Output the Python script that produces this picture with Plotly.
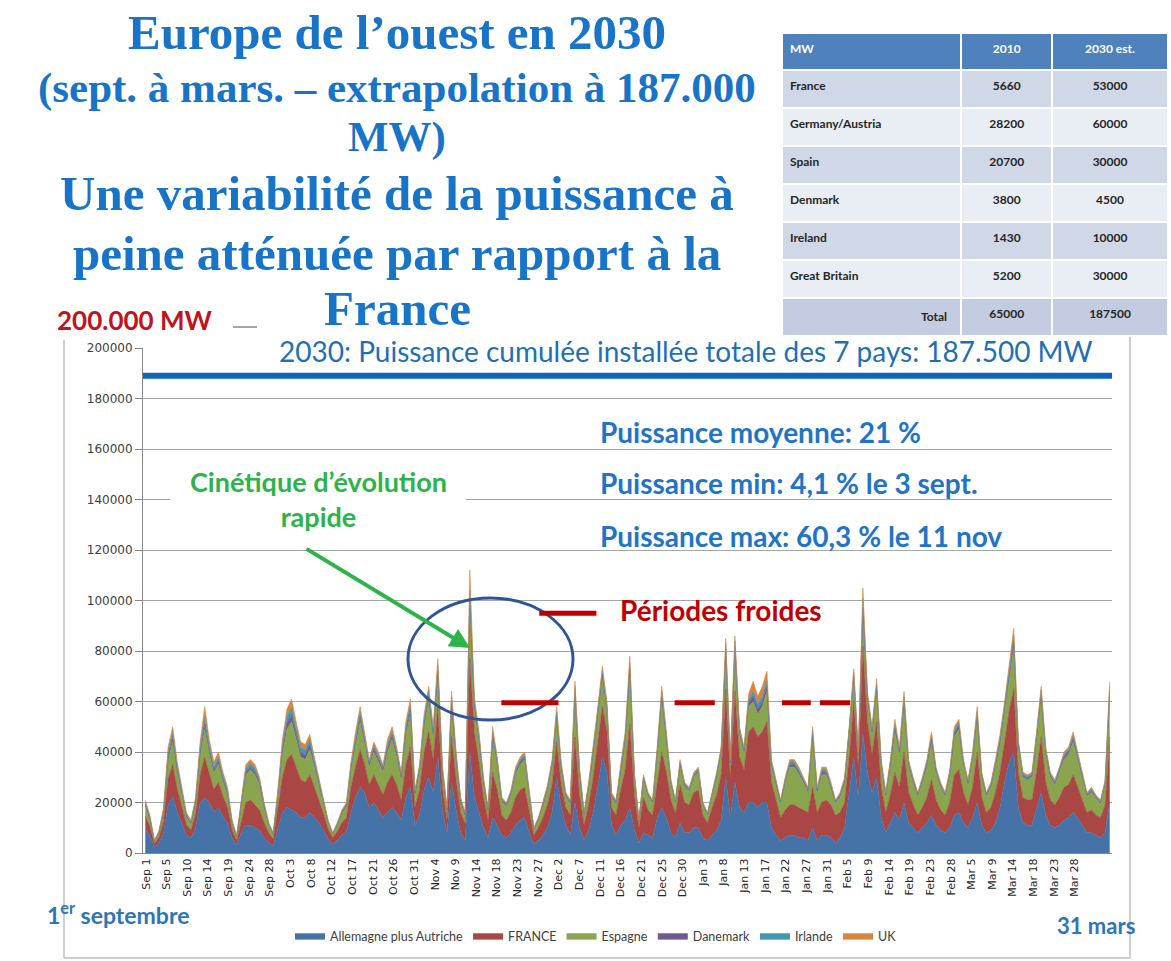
import plotly.graph_objects as go

W, H = 1171, 961

def px(x):
    return x / W

def py(y):
    return 1 - y / H

# ---------------- data (MW, one value per day, 1 Sep -> 31 Mar) ----------------
allemagne = [
    9500, 6800, 2300, 4000, 8100, 19000, 22500, 16200, 11700, 7200,
    5800, 9900, 19800, 22000, 20000, 16200, 18000, 14400, 11700, 5800,
    3200, 8000, 11000, 11000, 10000, 9000, 6000, 4000, 3000, 10000,
    16000, 18000, 17000, 16000, 14000, 14000, 16000, 14000, 12000, 9000,
    5500, 3500, 5000, 7000, 8000, 16000, 22000, 26000, 24000, 18000,
    20000, 17000, 14000, 16000, 18000, 16000, 13000, 22000, 26000, 11000,
    15000, 25000, 30000, 24000, 38000, 17000, 8000, 28000, 17000, 8000,
    5000, 40000, 22000, 16000, 10000, 6000, 14000, 11000, 7000, 6000,
    8000, 11000, 13000, 14000, 8000, 3500, 5000, 7000, 10000, 16000,
    30000, 18000, 11000, 7000, 20000, 10000, 5000, 9000, 16000, 26000,
    38000, 32000, 11000, 7000, 11000, 13000, 18000, 9000, 4000, 8000,
    7000, 6000, 14000, 18000, 14000, 8000, 6000, 12000, 8000, 8000,
    10000, 10000, 6000, 5000, 7000, 9000, 13000, 30000, 14000, 28000,
    18000, 16000, 20000, 20000, 18000, 20000, 20000, 10000, 7000, 5000,
    6000, 7000, 7000, 6000, 6000, 5000, 10000, 5000, 7000, 7000,
    6000, 4000, 6000, 10000, 24000, 38000, 22000, 47000, 32000, 24000,
    30000, 14000, 8000, 12000, 16000, 13000, 20000, 12000, 10000, 8000,
    10000, 12000, 15000, 11000, 9000, 8000, 10000, 15000, 16000, 12000,
    10000, 14000, 20000, 11000, 8000, 9000, 12000, 18000, 28000, 36000,
    40000, 18000, 12000, 11000, 11000, 17000, 24000, 15000, 11000, 10000,
    11000, 13000, 14000, 16000, 14000, 11000, 8000, 8000, 7000, 6000,
    8000, 20000,
]
france = [
    5200, 3800, 1200, 2300, 4500, 10500, 12500, 9000, 6500, 4000,
    3300, 5500, 11000, 16000, 11500, 9000, 10000, 8000, 6500, 3300,
    1700, 5000, 9000, 10000, 9000, 8000, 6000, 4000, 2500, 7000,
    14000, 19000, 22000, 18000, 15000, 14000, 15000, 12000, 9000, 6500,
    4000, 2500, 3500, 5000, 6000, 10000, 12000, 15000, 11000, 9000,
    11000, 10000, 9000, 12000, 13000, 11000, 8000, 13000, 16000, 7000,
    10000, 15000, 18000, 13000, 20000, 9000, 5000, 18000, 12000, 8000,
    6500, 37000, 26000, 20000, 12000, 7000, 18000, 14000, 8000, 7000,
    8000, 11000, 12000, 12000, 8000, 3500, 5000, 7000, 9000, 11000,
    14000, 9000, 7000, 8000, 26000, 13000, 6000, 10000, 14000, 17000,
    20000, 16000, 7000, 8000, 14000, 20000, 33000, 14000, 6000, 14000,
    10000, 9000, 14000, 22000, 18000, 13000, 9500, 15000, 12000, 11000,
    14000, 15000, 9000, 7000, 11000, 14000, 18000, 35000, 15000, 36000,
    20000, 17000, 28000, 30000, 28000, 28000, 32000, 18000, 14000, 9000,
    11000, 12000, 12000, 12000, 11000, 11000, 16000, 11000, 13000, 14000,
    13000, 11000, 10000, 10000, 14000, 22000, 12000, 35000, 20000, 15000,
    22000, 12000, 8000, 11000, 16000, 13000, 20000, 12000, 9000, 7000,
    8000, 10000, 14000, 10000, 8000, 7000, 10000, 16000, 17000, 12000,
    9000, 12000, 20000, 11000, 8000, 9000, 12000, 14000, 16000, 20000,
    25000, 14000, 10000, 10000, 10000, 15000, 22000, 13000, 10000, 9000,
    11000, 13000, 13000, 15000, 12000, 10000, 8000, 9000, 8000, 8000,
    11000, 26000,
]
espagne = [
    3800, 2700, 900, 1600, 3200, 7500, 9000, 6500, 4700, 2900,
    2300, 4000, 7900, 11000, 8000, 6500, 7200, 5800, 4700, 2300,
    1300, 5000, 11000, 12000, 12000, 10000, 6000, 3000, 2000, 5000,
    9000, 12000, 13000, 11000, 9000, 9000, 10000, 8000, 6000, 4500,
    2500, 1500, 2500, 3500, 4000, 7000, 9000, 11000, 8000, 7000,
    9000, 9000, 9000, 12000, 14000, 11000, 8000, 12000, 13000, 5000,
    7000, 10000, 12000, 9000, 12000, 6000, 3500, 12000, 7500, 4000,
    3000, 20000, 9000, 8000, 5500, 3500, 13000, 10000, 5500, 5500,
    7000, 9000, 10000, 11000, 6000, 2300, 3200, 4600, 6000, 7000,
    9000, 6000, 4000, 4500, 16000, 8000, 3800, 7000, 9000, 11000,
    11000, 8000, 4000, 4500, 7500, 11000, 20000, 7000, 2400, 7000,
    5500, 4800, 11000, 20000, 12000, 6000, 4300, 7500, 6000, 5500,
    6000, 7000, 4000, 3200, 5000, 7000, 9000, 14000, 6000, 16000,
    9000, 6500, 10000, 10000, 9000, 10000, 12000, 6000, 6000, 6000,
    11000, 15000, 15000, 13000, 11000, 8000, 20000, 8000, 11000, 10000,
    7000, 5000, 6000, 8000, 9000, 9000, 4000, 12000, 8000, 8000,
    12000, 9000, 6500, 11000, 16000, 13000, 18000, 10000, 9000, 7500,
    10000, 12000, 15000, 11000, 9000, 7500, 10000, 15000, 16000, 11000,
    8000, 11000, 13000, 8000, 6500, 8000, 10000, 11000, 12000, 13000,
    16000, 10000, 8000, 8000, 9000, 13000, 16000, 11000, 9000, 8000,
    10000, 11000, 12000, 13000, 11000, 9000, 6500, 7000, 6500, 5500,
    8000, 16000,
]
danemark = [
    600, 500, 200, 300, 500, 1300, 1500, 1100, 800, 500,
    400, 700, 1300, 2000, 1400, 1100, 1200, 1000, 800, 400,
    200, 600, 1000, 1000, 1000, 800, 600, 300, 200, 1000,
    2000, 2500, 2500, 2000, 1800, 1800, 2000, 1200, 900, 600,
    300, 200, 300, 500, 600, 1000, 1500, 2000, 1300, 1000,
    1300, 1300, 1000, 1500, 1500, 1200, 1000, 1500, 2000, 600,
    1000, 1500, 2000, 1300, 2000, 1000, 500, 2000, 1100, 600,
    500, 3000, 1500, 1200, 800, 500, 1500, 1000, 500, 500,
    600, 1000, 1000, 1000, 600, 200, 200, 400, 600, 1000,
    1500, 1000, 600, 500, 2000, 1000, 400, 600, 1000, 1300,
    1500, 1200, 600, 500, 800, 1200, 2000, 600, 200, 600,
    500, 400, 1000, 2000, 1300, 600, 400, 800, 600, 500,
    600, 600, 300, 200, 300, 600, 600, 2000, 600, 2000,
    1000, 800, 1500, 2000, 2000, 2000, 2000, 1000, 600, 300,
    600, 1000, 1000, 1000, 600, 600, 1000, 600, 1000, 1000,
    600, 300, 600, 600, 1000, 1300, 600, 3000, 1300, 1000,
    1500, 600, 500, 1000, 1500, 1000, 2000, 1000, 600, 500,
    600, 1000, 1200, 600, 600, 500, 1000, 1200, 1200, 600,
    600, 1000, 1500, 600, 500, 600, 1000, 1200, 1300, 1500,
    2500, 1000, 600, 600, 600, 1000, 1300, 1000, 600, 600,
    600, 1000, 1000, 1200, 1000, 600, 500, 600, 500, 500,
    600, 2000,
]
irlande = [
    800, 600, 200, 400, 700, 1700, 2000, 1400, 1000, 600,
    500, 900, 1800, 3000, 1800, 1400, 1600, 1300, 1000, 500,
    300, 600, 1500, 1500, 1500, 1100, 700, 300, 100, 1000,
    2000, 2500, 3000, 2500, 2000, 2000, 2000, 1400, 1000, 700,
    300, 100, 300, 500, 700, 1000, 1500, 2000, 1300, 1000,
    1300, 1300, 1000, 1500, 1500, 1300, 1000, 1500, 2000, 700,
    1000, 1500, 2000, 1300, 2500, 1000, 500, 2000, 1200, 700,
    500, 4000, 1500, 1300, 800, 500, 1500, 1000, 500, 500,
    700, 1000, 1000, 1000, 700, 200, 300, 500, 700, 1000,
    1500, 1000, 700, 500, 2000, 1000, 400, 700, 1000, 1300,
    1500, 1300, 700, 500, 800, 1300, 2500, 700, 200, 700,
    500, 400, 1000, 2000, 1300, 700, 400, 800, 700, 500,
    700, 700, 300, 300, 300, 700, 700, 2000, 700, 2000,
    1000, 800, 1500, 2000, 2000, 2000, 2000, 1000, 700, 300,
    700, 1000, 1000, 1000, 700, 700, 1500, 700, 1000, 1000,
    700, 300, 700, 700, 1000, 1300, 700, 4000, 1300, 1000,
    1500, 700, 500, 1000, 1500, 1000, 2000, 1000, 700, 500,
    700, 1000, 1300, 700, 700, 500, 1000, 1300, 1300, 700,
    700, 1000, 1500, 700, 500, 700, 1000, 1300, 1300, 1500,
    2500, 1000, 700, 700, 700, 1000, 1300, 1000, 700, 700,
    700, 1000, 1000, 1300, 1000, 700, 500, 700, 500, 500,
    700, 2000,
]
uk = [
    1100, 600, 200, 400, 1000, 2000, 2500, 1800, 1300, 800,
    700, 1000, 2200, 4000, 2300, 1800, 2000, 1500, 1300, 700,
    300, 800, 1500, 1500, 1500, 1100, 700, 400, 200, 1000,
    2000, 3000, 3500, 2500, 2200, 2200, 2000, 1400, 1100, 700,
    400, 200, 400, 500, 700, 1000, 2000, 2000, 1400, 1000,
    1400, 1400, 1000, 2000, 2000, 1500, 1000, 2000, 2000, 700,
    1000, 2000, 2000, 1400, 2500, 1000, 500, 2000, 1200, 700,
    500, 8000, 2000, 1500, 900, 500, 2000, 1000, 500, 500,
    700, 1000, 1000, 1000, 700, 300, 300, 500, 700, 1000,
    2000, 1000, 700, 500, 2000, 1000, 400, 700, 1000, 1400,
    2000, 1500, 700, 500, 900, 1500, 2500, 700, 200, 700,
    500, 400, 1000, 2000, 1400, 700, 400, 900, 700, 500,
    700, 700, 400, 300, 400, 700, 700, 2000, 700, 2000,
    1000, 900, 2000, 4000, 3000, 4000, 4000, 1000, 700, 400,
    700, 1000, 1000, 1000, 700, 700, 1500, 700, 1000, 1000,
    700, 400, 700, 700, 1000, 1400, 700, 4000, 1400, 1000,
    2000, 700, 500, 1000, 2000, 1000, 2000, 1000, 700, 500,
    700, 1000, 1500, 700, 700, 500, 1000, 1500, 1500, 700,
    700, 1000, 2000, 700, 500, 700, 1000, 1500, 1400, 2000,
    3000, 1000, 700, 700, 700, 1000, 1400, 1000, 700, 700,
    700, 1000, 1000, 1500, 1000, 700, 500, 700, 500, 500,
    700, 2000,
]

tick_labels = [
    "Sep 1", "Sep 5", "Sep 10", "Sep 14", "Sep 19", "Sep 24", "Sep 28",
    "Oct 3", "Oct 8", "Oct 12", "Oct 17", "Oct 21", "Oct 26", "Oct 31",
    "Nov 4", "Nov 9", "Nov 14", "Nov 18", "Nov 23", "Nov 27",
    "Dec 2", "Dec 7", "Dec 11", "Dec 16", "Dec 21", "Dec 25", "Dec 30",
    "Jan 3", "Jan 8", "Jan 13", "Jan 17", "Jan 22", "Jan 27", "Jan 31",
    "Feb 5", "Feb 9", "Feb 14", "Feb 19", "Feb 23", "Feb 28",
    "Mar 5", "Mar 9", "Mar 14", "Mar 18", "Mar 23", "Mar 28",
]

capacity_line = 189000  # MW, blue reference line (187.500 MW installed)

table_countries = ["France", "Germany/Austria", "Spain", "Denmark", "Ireland",
                   "Great Britain", ""]
table_2010 = [5660, 28200, 20700, 3800, 1430, 5200, 65000]
table_2030 = [53000, 60000, 30000, 4500, 10000, 30000, 187500]

series = [
    ("Allemagne plus Autriche", allemagne, "#4572A7"),
    ("FRANCE", france, "#AA4643"),
    ("Espagne", espagne, "#89A54E"),
    ("Danemark", danemark, "#71588F"),
    ("Irlande", irlande, "#4198AF"),
    ("UK", uk, "#DB843D"),
]

days = list(range(len(allemagne)))

fig = go.Figure()
for name, vals, col in series:
    fig.add_trace(go.Scatter(
        x=days, y=vals, name=name, mode="lines",
        stackgroup="one", line=dict(color=col, width=0.6),
        fillcolor=col,
    ))

# table (top right)
row_cols = ["#D0D8E8", "#E9EDF4", "#D0D8E8", "#E9EDF4", "#D0D8E8", "#E9EDF4", "#C3CCE0"]
fig.add_trace(go.Table(
    domain=dict(x=[px(782), px(1168)], y=[py(337), py(33)]),
    columnwidth=[178, 90, 115],
    header=dict(
        values=["<b>MW</b>", "<b>2010</b>", "<b>2030 est.</b>"],
        fill_color="#4F81BD", line_color="white", line_width=2,
        font=dict(family="Lato", size=12, color="white"),
        align=["left", "center", "center"], height=37,
    ),
    cells=dict(
        values=[[f"<b>{c}</b>" for c in table_countries],
                [f"<b>{v}</b>" for v in table_2010],
                [f"<b>{v}</b>" for v in table_2030]],
        fill_color=[row_cols, row_cols, row_cols],
        line_color="white", line_width=2,
        font=dict(family="Lato", size=12, color="#262626"),
        align=["left", "center", "center"], height=38,
    ),
))

tickvals = [0.15 + 4.516 * k for k in range(len(tick_labels))]

fig.update_layout(
    width=W, height=H,
    margin=dict(l=0, r=0, t=0, b=0),
    paper_bgcolor="white", plot_bgcolor="white",
    showlegend=True,
    legend=dict(orientation="h", x=px(290), y=py(936), xanchor="left", yanchor="middle",
                traceorder="normal",
                font=dict(family="Lato", size=12.5, color="#404040"),
                itemwidth=30, bgcolor="rgba(0,0,0,0)"),
    xaxis=dict(domain=[px(143), px(1112)], range=[-0.5, 211.5],
               tickvals=tickvals, ticktext=tick_labels, tickangle=-90,
               tickfont=dict(family="DejaVu Sans", size=11, color="#262626"),
               showgrid=False, zeroline=False, showline=True, linecolor="#878787",
               ticks="", automargin=False),
    yaxis=dict(domain=[py(853), py(348)], range=[0, 200000],
               tickvals=list(range(0, 200001, 20000)), tickformat="d",
               tickfont=dict(family="DejaVu Sans", size=12, color="#404040"),
               showgrid=True, gridcolor="#A6A6A6", gridwidth=1,
               zeroline=False, showline=True, linecolor="#878787",
               ticks="outside", ticklen=7, tickcolor="#878787", automargin=False),
)

shapes = [
    # chart frame
    dict(type="line", xref="paper", yref="paper", x0=px(64), x1=px(64), y0=py(340), y1=py(958),
         line=dict(color="#BFBFBF", width=1.5)),
    dict(type="line", xref="paper", yref="paper", x0=px(64), x1=px(1130), y0=py(958), y1=py(958),
         line=dict(color="#BFBFBF", width=1.5)),
    dict(type="line", xref="paper", yref="paper", x0=px(1130), x1=px(1130), y0=py(337), y1=py(958),
         line=dict(color="#BFBFBF", width=1.5)),
    # mask of the 200000 gridline behind the "2030:" caption
    dict(type="rect", xref="paper", yref="paper", x0=px(266), x1=px(1113), y0=py(352), y1=py(344),
         fillcolor="white", line=dict(width=0), layer="above"),
    # mask of the 140000 gridline behind the green caption
    dict(type="rect", xref="paper", yref="paper", x0=px(170), x1=px(466), y0=py(503), y1=py(495),
         fillcolor="white", line=dict(width=0), layer="above"),
    # capacity line
    dict(type="line", xref="x", yref="y", x0=-0.5, x1=211.5, y0=capacity_line, y1=capacity_line,
         line=dict(color="#0F65B8", width=6), layer="above"),
    # ellipse
    dict(type="circle", xref="paper", yref="paper", x0=px(408), x1=px(573), y0=py(720), y1=py(598),
         line=dict(color="#2F5597", width=3), layer="above"),
    # small grey dash after 200.000 MW
    dict(type="line", xref="paper", yref="paper", x0=px(233), x1=px(257), y0=py(327), y1=py(327),
         line=dict(color="#A6A6A6", width=2)),
]
# cold periods dashes (data coordinates)
cold = [(86.2, 98.7, 95000), (77.9, 90.4, 59500), (115.8, 124.6, 59500),
        (139.3, 145.6, 59500), (147.6, 154.2, 59500)]
for a, b, yv in cold:
    shapes.append(dict(type="line", xref="x", yref="y", x0=a, x1=b, y0=yv, y1=yv,
                       line=dict(color="#C00000", width=5), layer="above"))
fig.update_layout(shapes=shapes)

title_col = "#1874C6"
ann = []
title_lines = [
    ("Europe de l’ouest en 2030", 33, 49),
    ("(sept. à mars. – extrapolation à 187.000", 88, 43),
    ("MW)", 137, 43),
    ("Une variabilité de la puissance à", 193, 49),
    ("peine atténuée par rapport à la", 253, 49),
    ("France", 308, 49),
]
for txt, yy, sz in title_lines:
    ann.append(dict(text=f"<b>{txt}</b>", x=px(397), y=py(yy), xref="paper", yref="paper",
                    showarrow=False, xanchor="center", yanchor="middle",
                    font=dict(family="Liberation Serif", size=sz, color=title_col)))

def add_text(txt, x, y, size, color, anchor="left", fam="Lato"):
    ann.append(dict(text=txt, x=px(x), y=py(y), xref="paper", yref="paper", showarrow=False,
                    xanchor=anchor, yanchor="middle", font=dict(family=fam, size=size, color=color)))

add_text("<b>Total</b>", 949, 317, 12, "#262626", anchor="right")
add_text("<b>200.000 MW</b>", 55, 320, 26, "#C0141B")
add_text("2030: Puissance cumulée installée totale des 7 pays: 187.500 MW", 686, 351, 28,
         "#1F6FB4", anchor="center")
add_text("<b>Puissance moyenne: 21 %</b>", 598, 432, 28, "#1F75C4")
add_text("<b>Puissance min: 4,1 % le 3 sept.</b>", 598, 483, 28, "#1F75C4")
add_text("<b>Puissance max: 60,3 % le 11 nov</b>", 598, 536, 28, "#1F75C4")
add_text("<b>Cinétique d’évolution<br>rapide</b>", 318, 499, 27, "#2DB34A", anchor="center")
add_text("<b>Périodes froides</b>", 618, 610, 28, "#C00000")
add_text("<b>1<sup>er</sup> septembre</b>", 45, 913, 23, "#2E75B6")
add_text("<b>31 mars</b>", 1055, 925, 22, "#2E75B6")

# green arrow
ann.append(dict(text="", x=px(470), y=py(648), xref="paper", yref="paper",
                ax=-165, ay=-100, axref="pixel", ayref="pixel", showarrow=True,
                arrowhead=2, arrowsize=1, arrowwidth=4, arrowcolor="#2DB34A"))

fig.update_layout(annotations=ann)

fig.write_html("out.html", config={"displayModeBar": False},
               post_script="document.body.style.margin='0px';document.body.style.overflow='hidden';")
